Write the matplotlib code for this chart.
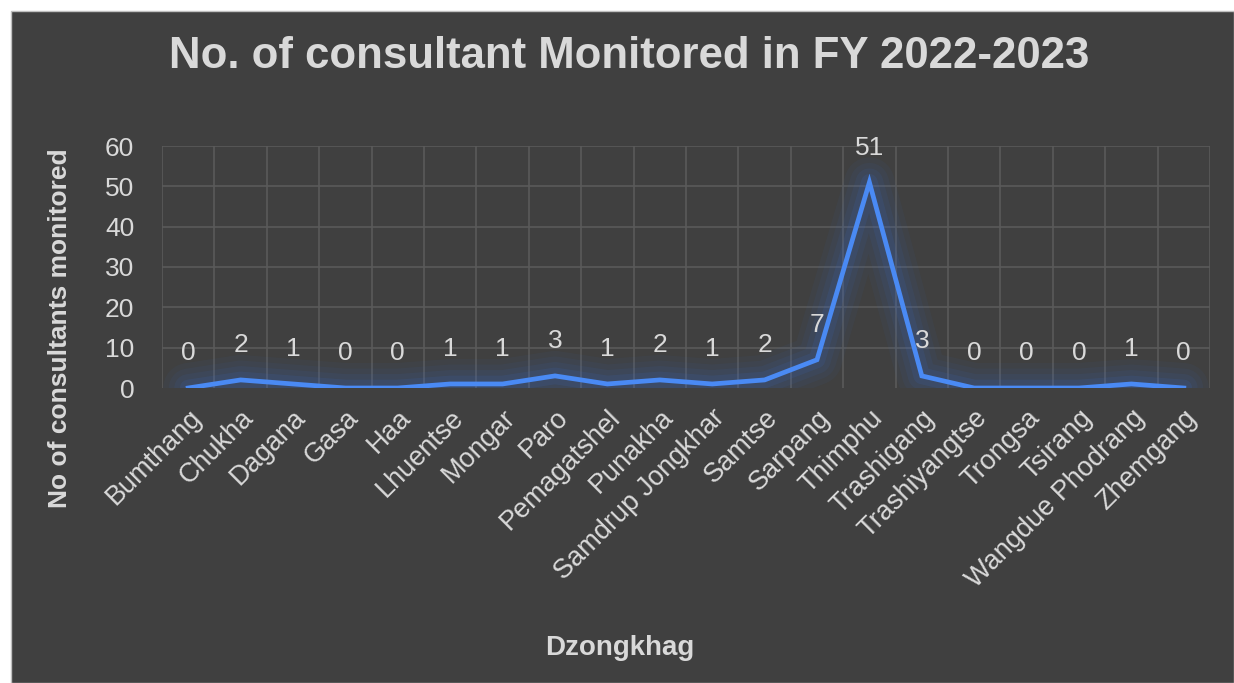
import numpy as np
import matplotlib
matplotlib.use('Agg')
import matplotlib.pyplot as plt
from matplotlib.patches import Rectangle

# data
dzongkhags = ['Bumthang', 'Chukha', 'Dagana', 'Gasa', 'Haa', 'Lhuentse', 'Mongar',
              'Paro', 'Pemagatshel', 'Punakha', 'Samdrup Jongkhar', 'Samtse',
              'Sarpang', 'Thimphu', 'Trashigang', 'Trashiyangtse', 'Trongsa',
              'Tsirang', 'Wangdue Phodrang', 'Zhemgang']
consultants = [0, 2, 1, 0, 0, 1, 1, 3, 1, 2, 1, 2, 7, 51, 3, 0, 0, 0, 1, 0]
y_ticks = [0, 10, 20, 30, 40, 50, 60]

bg = '#404040'
txt = '#d9d9d9'
grid_col = '#5a5a5a'
line_col = '#4a8af4'

plt.rcParams['font.family'] = ['Liberation Sans', 'DejaVu Sans']

W, H = 1234, 683
fig = plt.figure(figsize=(W / 100, H / 100), dpi=100)
fig.patch.set_facecolor('white')
fig.patches.append(Rectangle((11 / W, 0), 1 - 11 / W, 1 - 11 / H, transform=fig.transFigure,
                             facecolor=bg, edgecolor='#bfbfbf', linewidth=1, zorder=0))

ax = fig.add_axes([162 / W, 1 - 388 / H, (1210 - 162) / W, (388 - 146) / H])
ax.set_zorder(2)
ax.patch.set_alpha(0)

x = np.arange(len(dzongkhags))
ax.set_xlim(-0.5, len(dzongkhags) - 0.5)
ax.set_ylim(0, 60)

# grid: vertical lines between categories, horizontal at major ticks
for b in np.arange(-0.5, len(dzongkhags), 1):
    ax.axvline(b, color=grid_col, lw=1.2, zorder=1)
for t in y_ticks[1:]:
    ax.axhline(t, color=grid_col, lw=1.2, zorder=1)

# glow around the line
for lw, a in [(36, 0.05), (28, 0.06), (20, 0.08), (12, 0.12)]:
    ax.plot(x, consultants, color='#3a6fd0', lw=lw, alpha=a, solid_capstyle='round',
            solid_joinstyle='round', zorder=2)
ax.plot(x, consultants, color=line_col, lw=3.4, solid_joinstyle='miter', zorder=3)

for xi, v in zip(x, consultants):
    ax.annotate(str(v), (xi, v), xytext=(0, 25), textcoords='offset points',
                ha='center', va='center', color=txt, fontsize=19, zorder=4)

for s in ax.spines.values():
    s.set_visible(False)

ax.set_yticks(y_ticks)
ax.set_yticklabels([str(t) for t in y_ticks], color=txt, fontsize=19)
ax.set_xticks(x)
ax.set_xticklabels(dzongkhags, rotation=45, ha='right', rotation_mode='anchor',
                   color=txt, fontsize=19.5)
ax.tick_params(axis='both', length=0)
ax.tick_params(axis='y', pad=20)
ax.tick_params(axis='x', pad=12)

fig.text(629 / W, 1 - 57 / H, 'No. of consultant Monitored in FY 2022-2023',
         ha='center', va='center', color=txt, fontsize=31.5, fontweight='bold')
fig.text(60 / W, 1 - 328 / H, 'No of consultants monitored', rotation=90,
         ha='center', va='center', color=txt, fontsize=19, fontweight='bold')
fig.text(620 / W, 1 - 648 / H, 'Dzongkhag', ha='center', va='center',
         color=txt, fontsize=20, fontweight='bold')

fig.savefig('out.png', dpi=100, facecolor=fig.get_facecolor())
